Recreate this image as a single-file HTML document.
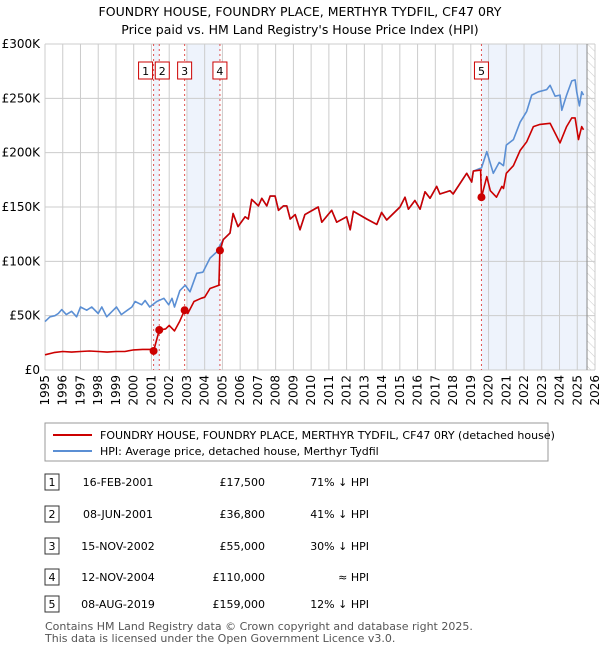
<!DOCTYPE html>
<html><head><meta charset="utf-8"><style>
body{margin:0;background:#fff;font-family:"Liberation Sans","DejaVu Sans",sans-serif;}
svg text{font-family:"DejaVu Sans","Liberation Sans",sans-serif;}
</style></head><body>
<svg id="c" width="600" height="650" viewBox="0 0 600 650" xmlns="http://www.w3.org/2000/svg">
<defs><pattern id="hatch" width="6" height="6" patternUnits="userSpaceOnUse" patternTransform="rotate(-45)"><line x1="0" y1="0" x2="0" y2="6" stroke="#ccc" stroke-width="1"/></pattern></defs>
<text x="300" y="16" text-anchor="middle" font-size="12.5">FOUNDRY HOUSE, FOUNDRY PLACE, MERTHYR TYDFIL, CF47 0RY</text>
<text x="300" y="34" text-anchor="middle" font-size="12.5">Price paid vs. HM Land Registry's House Price Index (HPI)</text>
<g id="plot"></g>
<g>
<rect x="45" y="423" width="503" height="38" fill="#fff" stroke="#999"/>
<line x1="53" y1="435" x2="92" y2="435" stroke="#cc0000" stroke-width="2"/>
<text x="100" y="439" font-size="11">FOUNDRY HOUSE, FOUNDRY PLACE, MERTHYR TYDFIL, CF47 0RY (detached house)</text>
<line x1="53" y1="451" x2="92" y2="451" stroke="#5b8fd4" stroke-width="2"/>
<text x="100" y="455" font-size="11">HPI: Average price, detached house, Merthyr Tydfil</text>
</g>
<g id="table"></g>
<text x="45" y="630" font-size="11" fill="#555">Contains HM Land Registry data © Crown copyright and database right 2025.</text>
<text x="45" y="642" font-size="11" fill="#555">This data is licensed under the Open Government Licence v3.0.</text>
</svg>
<script>
const hpiT=[1995.0,1995.28,1995.56,1995.75,1995.94,1996.2,1996.5,1996.78,1997.0,1997.35,1997.63,1998.0,1998.2,1998.48,1998.85,1999.03,1999.3,1999.9,2000.08,2000.45,2000.64,2000.9,2001.3,2001.7,2001.97,2002.16,2002.3,2002.6,2002.9,2003.17,2003.55,2003.9,2004.3,2004.7,2004.87,2005.05,2005.43,2005.6,2005.88,2006.28,2006.46,2006.65,2007.03,2007.22,2007.5,2007.69,2007.97,2008.16,2008.44,2008.63,2008.82,2009.1,2009.37,2009.65,2010.4,2010.6,2011.16,2011.44,2012.0,2012.2,2012.38,2013.13,2013.7,2013.97,2014.26,2015.01,2015.29,2015.48,2015.85,2016.14,2016.42,2016.7,2017.08,2017.26,2017.83,2018.0,2018.77,2019.05,2019.14,2019.6,2019.9,2020.27,2020.6,2020.84,2021.0,2021.4,2021.78,2022.15,2022.43,2022.81,2023.28,2023.47,2023.75,2024.03,2024.13,2024.4,2024.69,2024.88,2024.97,2025.12,2025.25,2025.35];
const hpiV=[44.5,49,50,52,55.6,51,54,49,58,55,58,52,58,49,55,58,51,58,63,60,64,58,63,66,60,66,58,73,78,72,89,90,103,109,115,120,126,144,132,141,139,157,151,158,151,160,160,147,151,151,139,143,129,143,150,136,147,136,141,129,146,139,134,145,138,150,159,148,156,148,164,158,169,162,165,162,181,173,183,186,201,181,191,188,207,212,228,238,253,256,258,262,252,253,239,253,266,267,256,243,256,253];
const redT=[1995.0,1995.5,1996.0,1996.5,1997.0,1997.5,1998.0,1998.5,1999.0,1999.5,2000.0,2000.5,2001.0,2001.12,2001.44,2001.8,2002.0,2002.3,2002.6,2002.87,2003.05,2003.4,2003.8,2004.0,2004.3,2004.8,2004.86,2005.05,2005.43,2005.6,2005.88,2006.28,2006.46,2006.65,2007.03,2007.22,2007.5,2007.69,2007.97,2008.16,2008.44,2008.63,2008.82,2009.1,2009.37,2009.65,2010.4,2010.6,2011.16,2011.44,2012.0,2012.2,2012.38,2013.13,2013.7,2013.97,2014.26,2015.01,2015.29,2015.48,2015.85,2016.14,2016.42,2016.7,2017.08,2017.26,2017.83,2018.0,2018.77,2019.05,2019.14,2019.55,2019.6,2019.9,2020.1,2020.45,2020.75,2020.84,2021.0,2021.4,2021.78,2022.15,2022.53,2022.9,2023.47,2023.75,2024.03,2024.4,2024.69,2024.88,2025.07,2025.25,2025.35];
const redV=[14,16,17,16.5,17,17.5,17,16.5,17,17,18.5,19,19,17.5,36.8,37.8,41,36,45,55,52,63,66,67,75,78,110,120,126,144,132,141,139,157,151,158,151,160,160,147,151,151,139,143,129,143,150,136,147,136,141,129,146,139,134,145,138,150,159,148,156,148,164,158,169,162,165,162,181,173,183,184,159,178,165,159,169,167,181,188,202,210,224,226,227,218,209,224,232,232,212,224,221];
const saleT=[2001.12,2001.44,2002.87,2004.86,2019.6];
const saleV=[17.5,36.8,55,110,159];
const saleLabels=["1","2","3","4","5"];
const saleDates=["16-FEB-2001","08-JUN-2001","15-NOV-2002","12-NOV-2004","08-AUG-2019"];
const salePrices=["£17,500","£36,800","£55,000","£110,000","£159,000"];
const saleRel=["71% ↓ HPI","41% ↓ HPI","30% ↓ HPI","≈ HPI","12% ↓ HPI"];
const yTicks=[0,50,100,150,200,250,300];
const yTickLabels=["£0","£50K","£100K","£150K","£200K","£250K","£300K"];
const xYears=[1995,1996,1997,1998,1999,2000,2001,2002,2003,2004,2005,2006,2007,2008,2009,2010,2011,2012,2013,2014,2015,2016,2017,2018,2019,2020,2021,2022,2023,2024,2025,2026];

const NS="http://www.w3.org/2000/svg";
const X0=45,X1=595,Y0=370,Y1=44;
const xs=t=>X0+(t-1995)*(X1-X0)/31;
const ys=v=>Y0-v*(Y0-Y1)/300;
function mk(tag,attrs,parent){const e=document.createElementNS(NS,tag);for(const k in attrs)e.setAttribute(k,attrs[k]);parent.appendChild(e);return e;}
const P=document.getElementById('plot');
// shaded ranges
[[1,2],[2,3]].forEach(()=>{});
const sh1=mk('rect',{x:xs(saleT[0]),y:Y1,width:xs(saleT[1])-xs(saleT[0]),height:Y0-Y1,fill:'#eef3fc'},P);


const sh2=mk('rect',{x:xs(2003.0),y:Y1,width:xs(saleT[3])-xs(2003.0),height:Y0-Y1,fill:'#eef3fc'},P);


const sh3=mk('rect',{x:xs(saleT[4]),y:Y1,width:xs(2025.55)-xs(saleT[4]),height:Y0-Y1,fill:'#eef3fc'},P);


const hz=mk('rect',{x:xs(2025.55),y:Y1,width:X1-xs(2025.55),height:Y0-Y1,fill:'url(#hatch)'},P);


// grid
xYears.forEach(yr=>{const l=mk('line',{x1:xs(yr),x2:xs(yr),y1:Y1,y2:Y0,stroke:'#ccc','stroke-width':1},P);


const t=mk('text',{x:0,y:0,'font-size':12,'text-anchor':'end',transform:`translate(${xs(yr)+4},${Y0+5}) rotate(-90)`},P);t.textContent=yr;

});
yTicks.forEach((v,i)=>{const l=mk('line',{x1:X0,x2:X1,y1:ys(v),y2:ys(v),stroke:'#ccc','stroke-width':1},P);


const t=mk('text',{x:40,y:ys(v)+4,'font-size':12,'text-anchor':'end'},P);t.textContent=yTickLabels[i];

});
mk('line',{x1:xs(2025.55),x2:xs(2025.55),y1:Y1,y2:Y0,stroke:'#888'},P);
// sale lines
saleT.forEach((t,i)=>{const l=mk('line',{x1:xs(t),x2:xs(t),y1:Y1,y2:Y0,stroke:'#e05050','stroke-dasharray':'2,3','stroke-width':1},P);

});
function line(T,V,col,name){const d=T.map((t,i)=>(i?'L':'M')+xs(t).toFixed(1)+','+ys(V[i]).toFixed(1)).join('');const p=mk('path',{d:d,fill:'none',stroke:col,'stroke-width':1.6,'stroke-linejoin':'round'},P);

}
line(hpiT,hpiV,'#5b8fd4','hpi-line');
line(redT,redV,'#cc0000','price-paid-line');
saleT.forEach((t,i)=>{const c=mk('circle',{cx:xs(t),cy:ys(saleV[i]),r:4,fill:'#cc0000'},P);

});
// marker boxes
const off=[-8,0,0,0,0];
[0,1,2,3,4].forEach(i=>{const cx=xs(saleT[i])+off[i]+(i==1?3:0);const g=mk('g',{},P);


mk('rect',{x:cx-7,y:62,width:14,height:17,fill:'#fff',stroke:'#cc0000'},g);
const t=mk('text',{x:cx,y:75,'font-size':11,'text-anchor':'middle'},g);t.textContent=saleLabels[i];});
// table
const TB=document.getElementById('table');
const rowY=[482,514,546,577,604];
saleLabels.forEach((s,i)=>{const y=rowY[i];const g=mk('g',{},TB);


mk('rect',{x:45,y:y-8,width:14,height:16,fill:'#fff',stroke:'#333'},g);
let t=mk('text',{x:52,y:y+4,'font-size':11,'text-anchor':'middle'},g);t.textContent=s;
t=mk('text',{x:118,y:y+4,'font-size':11,'text-anchor':'middle'},g);t.textContent=saleDates[i];
t=mk('text',{x:265,y:y+4,'font-size':11,'text-anchor':'end'},g);t.textContent=salePrices[i];
t=mk('text',{x:369,y:y+4,'font-size':11,'text-anchor':'end'},g);t.textContent=saleRel[i];});
</script>
</body></html>
